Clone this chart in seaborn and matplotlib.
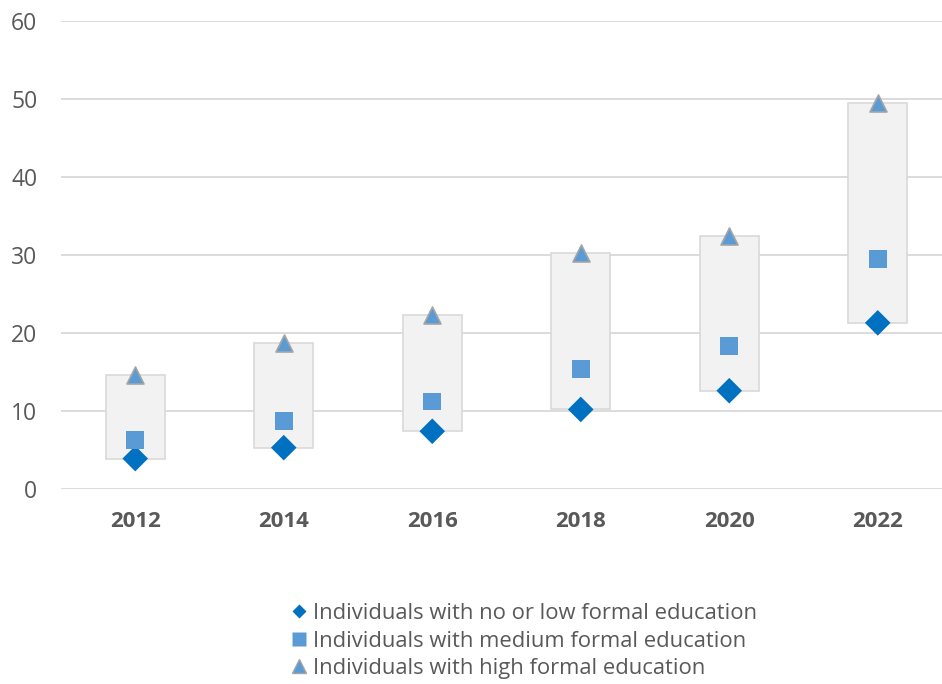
import matplotlib
matplotlib.use("Agg")
import matplotlib.pyplot as plt
import seaborn as sns
import pandas as pd
from matplotlib.lines import Line2D

years = ["2012", "2014", "2016", "2018", "2020", "2022"]
low_edu = [3.9, 5.3, 7.4, 10.2, 12.6, 21.3]
medium_edu = [6.3, 8.7, 11.2, 15.4, 18.3, 29.5]
high_edu = [14.6, 18.7, 22.3, 30.3, 32.4, 49.5]

labels = ["Individuals with no or low formal education",
          "Individuals with medium formal education",
          "Individuals with high formal education"]

sns.set_theme(style="white")
plt.rcParams['font.family'] = ['Open Sans', 'DejaVu Sans']

text_col = "#595959"
grid_col = "#D9D9D9"

fig = plt.figure(figsize=(9.42, 6.84), dpi=100)
ax = fig.add_axes([61/942, (684-489)/684, 1 - 61/942, (489-21)/684])

df = pd.DataFrame({"year": years, "low": low_edu, "medium": medium_edu, "high": high_edu})
df["span"] = df["high"] - df["low"]

x = list(range(len(years)))
ax.bar(x, df["span"], bottom=df["low"], width=0.4, color="#F2F2F2",
       edgecolor="#D9D9D9", linewidth=1.2, zorder=2)

sns.scatterplot(x=x, y=df["low"], marker="D", s=170, color="#0070C0",
                edgecolor="none", ax=ax, zorder=4, legend=False)
sns.scatterplot(x=x, y=df["medium"], marker="s", s=160, color="#5B9BD5",
                edgecolor="none", ax=ax, zorder=4, legend=False)
sns.scatterplot(x=x, y=df["high"], marker="^", s=150, color="#5B9BD5",
                edgecolor="#A5A5A5", linewidth=1.2, ax=ax, zorder=4, legend=False)

ax.set_ylim(0, 60)
ax.set_xlim(-0.5, 5.5 - 10/148.6)
ax.set_yticks(range(0, 61, 10))
ax.set_xticks(x)
ax.set_xticklabels(years, fontsize=16, fontweight="bold", color=text_col)
ax.tick_params(axis="y", labelsize=16.5, labelcolor=text_col, length=0, pad=17)
ax.tick_params(axis="x", length=0, pad=16)
ax.yaxis.grid(True, color=grid_col, linewidth=1.3)
ax.set_axisbelow(True)
for s in ax.spines.values():
    s.set_visible(False)
ax.set_xlabel("")
ax.set_ylabel("")

handles = [
    Line2D([], [], linestyle="none", marker="D", markersize=7, color="#0070C0", markeredgecolor="none"),
    Line2D([], [], linestyle="none", marker="s", markersize=10, color="#5B9BD5", markeredgecolor="none"),
    Line2D([], [], linestyle="none", marker="^", markersize=10, color="#5B9BD5", markeredgecolor="#A5A5A5"),
]
fig.legend(handles, labels, loc="upper left", bbox_to_anchor=(291/942, 1 - 603/684),
           frameon=False, fontsize=15.8, labelcolor=text_col, handlelength=0.7,
           handletextpad=0.3, labelspacing=0.3, borderaxespad=0, borderpad=0)

fig.savefig("out.png", dpi=100)
